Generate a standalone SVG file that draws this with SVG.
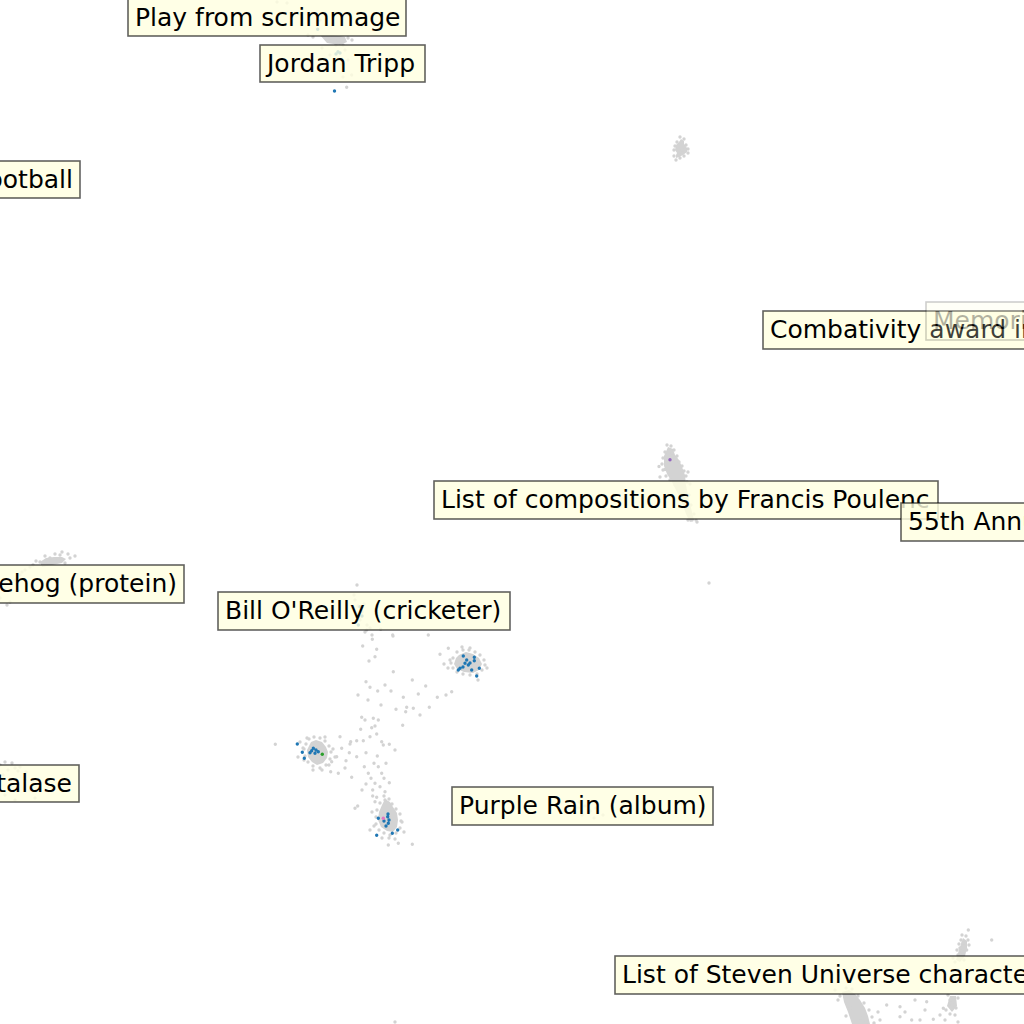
<svg xmlns="http://www.w3.org/2000/svg" width="1024" height="1024" viewBox="0 0 1024 1024">
<style>
.blob{fill:#d3d3d3}
.g{fill:none;stroke:#d3d3d3;stroke-width:3.4;stroke-linecap:round}
.b{fill:none;stroke:#1f77b4;stroke-width:3.4;stroke-linecap:round}
.box{fill:#ffffe0;fill-opacity:0.82;stroke:#000;stroke-opacity:0.62;stroke-width:1.6}
.t{font-family:"DejaVu Sans","Liberation Sans",sans-serif;font-size:25px;fill:#000}
.e{text-anchor:end}
</style>
<rect width="1024" height="1024" fill="#fff"/>
<g id="points">
<path class="blob" d="M311 742L316 740L322 742L326 747L328 752L327 758L323 763L317 765L312 762L308 757L307 750Z"/>
<path class="blob" d="M385 799L390 802L393 807L397 813L398 820L397 827L393 832L387 831L381 827L378 820L379 812L382 805Z"/>
<path class="blob" d="M459 655L466 652L473 654L479 658L482 664L479 670L473 673L464 672L457 669L454 664L456 658Z"/>
<path class="blob" d="M668 447L673 449L675 455L679 460L682 467L685 475L686 485L689 500L692 512L694 520L690 522L686 514L682 503L677 492L672 482L667 474L664 466L664 456Z"/>
<path class="blob" d="M681 139L684 141L684 144L687 148L687 152L683 155L679 157L676 158L676 155L677 153L675 150L676 145L679 142Z"/>
<path class="blob" d="M40 562L46 558L54 557L62 557L66 559L62 563L52 565L42 567Z"/>
<path class="blob" d="M842 992L849 990L855 994L860 1000L865 1008L868 1016L870 1024L852 1024L848 1012L844 1002Z"/>
<path class="blob" d="M963 938L967 941L967 948L965 956L960 962L956 960L959 950Z"/>
<path class="blob" d="M950 996L956 996L957 1006L952 1012L947 1006Z"/>
<path class="blob" d="M320 35L333 35L345 37L347 42L340 45L327 43Z"/>
<path class="g" d="M366.7 630h0M392.7 635h0M428.3 635h0M362.7 646h0M372.3 639.3h0M376.7 649.3h0M375 656.7h0M369 661h0M393.3 671.7h0M366 681.7h0M370 687.3h0M385 685h0M377.7 691h0M391 691h0M412.3 680h0M425.7 686h0M440 654.3h0M448.3 648.3h0M418.3 694h0M403.3 697.3h0M437.3 697.3h0M446 695h0M451.7 691.7h0M429.3 707.3h0M406.7 707.3h0M413.3 708.3h0M396 709.3h0M405.7 711.7h0M373.3 718.3h0M378.3 720h0M361.7 717.3h0M365 720h0M402.7 725.3h0M375 726h0M360.7 729.3h0M371.7 727.7h0M376.7 734h0M370 736.7h0M340 736.7h0M350.7 741.7h0M350 744h0M356.7 740.7h0M363.3 740.7h0M381.7 741.7h0M383.3 745h0M389.3 744.3h0M341.7 748.3h0M349.3 752.7h0M356.7 756.7h0M366 752.7h0M377.3 756h0M374 763.3h0M386 763.3h0M346 760.7h0M336.7 756.7h0M331.7 761.7h0M330.7 771.7h0M338.3 773.3h0M351.7 777.3h0M364.3 766.7h0M368.3 773.3h0M378.3 766.7h0M381.7 773.3h0M384 778.3h0M371 778.3h0M375 783.3h0M389.3 782.7h0M366 784h0M380 786.7h0M372.7 790h0M385 791.7h0M372.7 796h0M376.7 797.3h0M375 801.7h0M355 808.3h0M357.7 806h0M388.3 845h0M398.3 843.3h0M412.3 844.3h0M275.3 744.3h0M380.7 629.3h0M393 636h0M357 585h0M709 583h0M395 1022h0M368 700h0M381 705h0M358 695h0M420 715h0M395 750h0M345 768h0M362 790h0"/>
<path class="g" d="M309 739h0M314 737h0M320 738h0M325 741h0M329 746h0M331 752h0M330 759h0M326 765h0M320 768h0M313 766h0M308 762h0M305 756h0M304 749h0M306 744h0M300 742h0M303 748h0M307 738h0M325 737h0M333 749h0M335 757h0M322 770h0M313 770h0M304 760h0M298 757h0M329 765h0"/>
<path class="g" d="M384 796h0M389 799h0M392 804h0M396 809h0M400 814h0M401 821h0M400 828h0M396 833h0M390 835h0M384 833h0M379 830h0M376 824h0M376 817h0M377 810h0M380 803h0M372 812h0M374 826h0M402 822h0M404 832h0M382 838h0M395 839h0M385 800h0M370 830h0M389 838h0"/>
<path class="g" d="M457 652h0M463 650h0M469 650h0M475 652h0M480 655h0M484 660h0M485 665h0M482 670h0M477 674h0M470 675h0M463 674h0M457 672h0M453 668h0M451 663h0M453 658h0M450 660h0M448 668h0M487 668h0M470 648h0M478 680h0M462 647h0M444 664h0"/>
<path class="g" d="M667 445h0M671 446h0M674 450h0M672 453h0M677 456h0M679 462h0M682 466h0M684 471h0M686 476h0M687 482h0M665 452h0M663 458h0M662 464h0M663 470h0M666 476h0M670 480h0M675 485h0M659 466.5h0M660 477h0M665 469.5h0M688 472h0M690 484h0M689 495h0M691 505h0M694 514h0M696 520h0M697 522h0M692 520h0M688 520h0M680 500h0"/>
<path class="g" d="M680 137h0M684 139h0M677 142h0M686 145h0M688 149h0M688 153h0M684 156h0M680 158h0M676 160h0M674 156h0M674 150h0M675 146h0M679 155h0M682 150h0"/>
<path class="g" d="M313 37h0M343 45h0M343 77h0M351.7 75h0M346.7 87.3h0M352 40h0M308 35h0M322 48h0M345 50h0M277 2h0M287 3h0M300 14h0M320 20h0M330 38h0M338 40h0M348 38h0M336 45h0M330 55h0M348 60h0M342 64h0"/>
<path class="g" d="M60 555h0M70 558h0M65 563h0M50 558h0M40 562h0M33 565h0M7 605h0M10 602h0M25 570h0M15 580h0M5 590h0M20 575h0M62 552h0M75 556h0M45 556h0M55 554h0M58 560h0M48 563h0M36 561h0M68 554h0M30 567h0M22 572h0M0 598h0"/>
<path class="g" d="M0 765h0M5 762h0M12 763h0M20 767h0M18 771h0M8 770h0M3 775h0M25 780h0M30 790h0M35 798h0M15 800h0M5 795h0M26 772h0M15 768h0"/>
<path class="g" d="M579 802h0M585 806h0M590 811h0M596 808h0M603 815h0M582 815h0M594 818h0M578 808h0"/>
<path class="g" d="M355 600h0M358 606h0M362 612h0M360 620h0M367 625h0M370 628h0M365 632h0M372 635h0M354 595h0M364 604h0"/>
<path class="g" d="M968.3 930h0M991.7 940h0M963 943h0M966.7 950h0M960 948h0M962 935h0M968 940h0M958 955h0M955 962h0M964 960h0M969 945h0M961 940h0M957 950h0M953 958h0M962 952h0M959 944h0M966 936h0M886.7 1005h0M900 1016.7h0M915 1000h0M926.7 1001.7h0M911.7 1020h0M920 1020h0M933.3 1019.3h0M940 1015h0M943.3 1008.3h0M900 1006.7h0M835 990h0M838 1000h0M878 1012h0M880 1020h0M860 1018h0M950 1000h0M955 1015h0M945 1020h0M958 1022h0M925 1010h0M905 1012h0M952 1005h0M948 995h0M946 1010h0M958 998h0M956 1008h0M950 1014h0M840 996h0M846 988h0M852 989h0M858 996h0M864 1003h0M869 1010h0M872 1017h0M850 1008h0M846 1016h0M866 1022h0M874 1023h0"/>
<path class="b" d="M297.3 744h0M302.3 752.3h0M304.3 758.3h0M310 752.7h0M313.3 748.3h0M316 750h0M318.3 751.7h0M311.7 750.7h0M315 753.3h0M378.3 818.3h0M384 821h0M387.7 816.7h0M389 820h0M388.3 823.3h0M397.7 830h0M392.3 833.3h0M376.7 835.3h0M388 814h0M386 826h0M463.3 656h0M466.7 660h0M474.3 657.3h0M474.3 660.7h0M465 663.3h0M468.3 665h0M471.7 670h0M460 668.3h0M458.3 670h0M476.7 676h0M479.3 668.3h0M470 663h0M463 667h0M334.5 91h0M317.7 29.3h0M338 51.7h0M336 54h0M340 53h0M360 606.7h0M358.3 625h0M362 616h0"/>
<path d="M322.3 754.3h0" fill="none" stroke="#2ca02c" stroke-width="3.4" stroke-linecap="round"/>
<path d="M383.3 818.3h0" fill="none" stroke="#e377c2" stroke-width="3.4" stroke-linecap="round"/>
<path d="M670 459.7h0" fill="none" stroke="#9467bd" stroke-width="3.4" stroke-linecap="round"/>
</g>
<g id="label-play"><rect class="box" x="128" y="-1" width="278" height="37"/><text class="t" x="135" y="26">Play from scrimmage</text></g>
<g id="label-jordan"><rect class="box" x="260" y="45" width="165" height="37"/><text class="t" x="267" y="72">Jordan Tripp</text></g>
<g id="label-football"><rect class="box" x="-200" y="161" width="280" height="37"/><text class="t e" x="73" y="188">ootball</text></g>
<g id="label-combativity"><rect class="box" x="763" y="311" width="400" height="38"/><text class="t" x="770" y="338">Combativity award in</text></g>
<g id="label-memori" opacity="0.3"><rect class="box" x="926" y="302" width="200" height="38"/><text class="t" x="933" y="329">Memori</text></g>
<g id="label-poulenc"><rect class="box" x="434" y="481" width="504" height="38"/><text class="t" x="441" y="508">List of compositions by Francis Poulenc</text></g>
<g id="label-55th"><rect class="box" x="901" y="503" width="200" height="38"/><text class="t" x="908" y="530">55th Annu</text></g>
<g id="label-hedgehog"><rect class="box" x="-100" y="565" width="284" height="38"/><text class="t e" x="177" y="592">ehog (protein)</text></g>
<g id="label-oreilly"><rect class="box" x="218" y="592" width="292" height="38"/><text class="t" x="225" y="619">Bill O'Reilly (cricketer)</text></g>
<g id="label-catalase"><rect class="box" x="-100" y="765" width="179" height="37"/><text class="t e" x="72" y="792">talase</text></g>
<g id="label-purple"><rect class="box" x="452" y="787" width="261" height="38"/><text class="t" x="459" y="814">Purple Rain (album)</text></g>
<g id="label-steven"><rect class="box" x="615" y="956" width="500" height="38"/><text class="t" x="622" y="983">List of Steven Universe characte</text></g>
</svg>
